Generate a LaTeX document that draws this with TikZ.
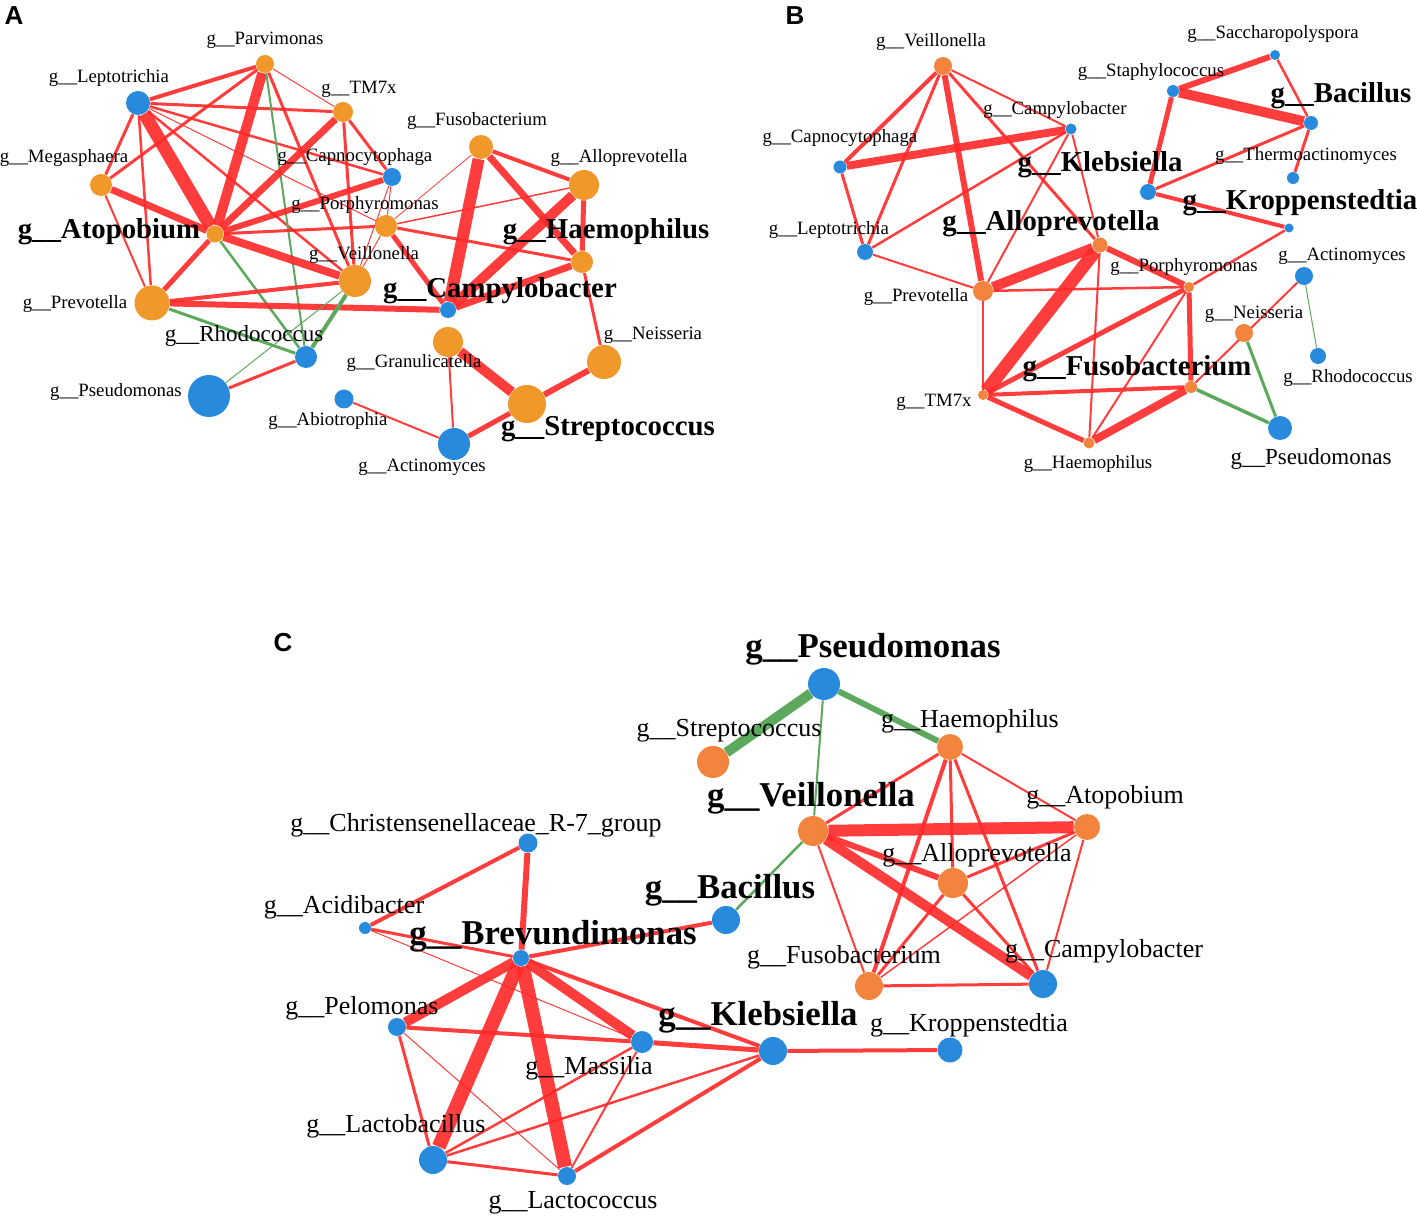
\documentclass[tikz,border=0pt]{standalone}
\usepackage{fontspec}
\setmainfont{Liberation Serif}
\newfontfamily\panelfont{Liberation Sans}
\usepackage{tikz}
\usetikzlibrary{backgrounds}
\definecolor{orangeA}{RGB}{240,152,42}
\definecolor{orangeBC}{RGB}{242,132,62}
\definecolor{taxblue}{RGB}{40,138,220}
\definecolor{linkred}{RGB}{255,40,40}
\definecolor{linkgreen}{RGB}{92,168,92}

\begin{document}
\begin{tikzpicture}[x=0.5pt,y=-0.5pt,
                every node/.append style={inner sep=0pt},
                adot/.style={circle,fill=orangeA,minimum size=#1},
                odot/.style={circle,fill=orangeBC,minimum size=#1},
                bdot/.style={circle,fill=taxblue,minimum size=#1},
                lbl/.style={font=\fontsize{9.4}{11}\selectfont},
                lblbig/.style={font=\fontsize{11.5}{13}\selectfont},
                lblbold/.style={font=\bfseries\fontsize{14.4}{16}\selectfont},
                clbl/.style={font=\fontsize{13}{15}\selectfont},
                clblbold/.style={font=\bfseries\fontsize{17.4}{19}\selectfont},
                panel/.style={font=\panelfont\bfseries\fontsize{13}{15}\selectfont},
                poslink/.style={draw=linkred,line width=#1,draw opacity=0.9},
                neglink/.style={draw=linkgreen,line width=#1}]
                \useasboundingbox (0,0) rectangle (1417,1218);
                \node[panel] (pA) at (14,16) {A};
                \node[panel] (pB) at (795,16) {B};
                \node[panel] (pC) at (283,643) {C};
                \node[adot=9pt] (a-parv) at (265,64) {};
                \node[bdot=12pt] (a-lept) at (138,103) {};
                \node[adot=10pt] (a-tm7x) at (343,112) {};
                \node[adot=11pt] (a-mega) at (101,185) {};
                \node[bdot=9pt] (a-capn) at (392,177) {};
                \node[adot=12pt] (a-fuso) at (481,147) {};
                \node[adot=15pt] (a-allo) at (584,185) {};
                \node[adot=8.5pt] (a-atop) at (215,234) {};
                \node[adot=11pt] (a-porp) at (386,226) {};
                \node[adot=11pt] (a-haem) at (582,262) {};
                \node[adot=16pt] (a-veil) at (355,281) {};
                \node[adot=17.5pt] (a-prev) at (152,303) {};
                \node[bdot=8pt] (a-camp) at (448,310) {};
                \node[bdot=11pt] (a-rhod) at (306,357) {};
                \node[adot=15pt] (a-gran) at (448,342) {};
                \node[adot=17pt] (a-neis) at (604,362) {};
                \node[bdot=21pt] (a-pseu) at (209,396) {};
                \node[bdot=9.5pt] (a-abio) at (344,399) {};
                \node[adot=19pt] (a-stre) at (527,404) {};
                \node[bdot=16pt] (a-acti) at (454,444) {};
                \node[lbl] (a-parv-l) at (265,40) {g\_\_Parvimonas};
                \node[lbl] (a-lept-l) at (109,78) {g\_\_Leptotrichia};
                \node[lbl] (a-mega-l) at (64,158) {g\_\_Megasphaera};
                \node[lbl] (a-tm7x-l) at (359,89) {g\_\_TM7x};
                \node[lbl] (a-capn-l) at (355,157) {g\_\_Capnocytophaga};
                \node[lbl] (a-porp-l) at (365,205) {g\_\_Porphyromonas};
                \node[lbl] (a-veil-l) at (364,255) {g\_\_Veillonella};
                \node[lbl] (a-fuso-l) at (477,121) {g\_\_Fusobacterium};
                \node[lbl] (a-allo-l) at (619,158) {g\_\_Alloprevotella};
                \node[lblbold] (a-haem-l) at (606,232) {g\_\_Haemophilus};
                \node[lblbold] (a-camp-l) at (500,291) {g\_\_Campylobacter};
                \node[lblbold] (a-atop-l) at (109,232) {g\_\_Atopobium};
                \node[lbl] (a-prev-l) at (75,304) {g\_\_Prevotella};
                \node[lblbig] (a-rhod-l) at (244,336) {g\_\_Rhodococcus};
                \node[lbl] (a-pseu-l) at (116,392) {g\_\_Pseudomonas};
                \node[lbl] (a-abio-l) at (328,421) {g\_\_Abiotrophia};
                \node[lbl] (a-gran-l) at (414,363) {g\_\_Granulicatella};
                \node[lbl] (a-neis-l) at (653,335) {g\_\_Neisseria};
                \node[lblbold] (a-stre-l) at (608,429) {g\_\_Streptococcus};
                \node[lbl] (a-acti-l) at (422,467) {g\_\_Actinomyces};
                \node[odot=9pt] (b-veil) at (943,66) {};
                \node[bdot=5pt] (b-sacc) at (1275,55) {};
                \node[bdot=6pt] (b-stap) at (1173,91) {};
                \node[bdot=7pt] (b-baci) at (1311,123) {};
                \node[bdot=5.5pt] (b-camp) at (1071,129) {};
                \node[bdot=6.5pt] (b-capn) at (840,167) {};
                \node[bdot=8pt] (b-kleb) at (1148,192) {};
                \node[bdot=6pt] (b-ther) at (1293,178) {};
                \node[bdot=4.5pt] (b-krop) at (1289,228) {};
                \node[odot=7.5pt] (b-allo) at (1100,245) {};
                \node[bdot=8pt] (b-lept) at (865,252) {};
                \node[bdot=9pt] (b-acti) at (1304,276) {};
                \node[odot=5pt] (b-porp) at (1189,287) {};
                \node[odot=10pt] (b-prev) at (983,291) {};
                \node[odot=9pt] (b-neis) at (1244,333) {};
                \node[bdot=8pt] (b-rhod) at (1318,356) {};
                \node[odot=6pt] (b-fuso) at (1191,387) {};
                \node[odot=5pt] (b-tm7x) at (983,395) {};
                \node[bdot=12pt] (b-pseu) at (1280,428) {};
                \node[odot=5.5pt] (b-haem) at (1089,443) {};
                \node[lbl] (b-veil-l) at (931,42) {g\_\_Veillonella};
                \node[lbl] (b-sacc-l) at (1273,34) {g\_\_Saccharopolyspora};
                \node[lbl] (b-stap-l) at (1151,72) {g\_\_Staphylococcus};
                \node[lblbold] (b-baci-l) at (1341,96) {g\_\_Bacillus};
                \node[lbl] (b-camp-l) at (1055,110) {g\_\_Campylobacter};
                \node[lbl] (b-capn-l) at (840,138) {g\_\_Capnocytophaga};
                \node[lblbold] (b-kleb-l) at (1100,165) {g\_\_Klebsiella};
                \node[lbl] (b-ther-l) at (1306,156) {g\_\_Thermoactinomyces};
                \node[lblbold] (b-krop-l) at (1300,203) {g\_\_Kroppenstedtia};
                \node[lblbold] (b-allo-l) at (1051,224) {g\_\_Alloprevotella};
                \node[lbl] (b-lept-l) at (829,230) {g\_\_Leptotrichia};
                \node[lbl] (b-acti-l) at (1342,256) {g\_\_Actinomyces};
                \node[lbl] (b-porp-l) at (1184,267) {g\_\_Porphyromonas};
                \node[lbl] (b-prev-l) at (916,297) {g\_\_Prevotella};
                \node[lbl] (b-neis-l) at (1254,314) {g\_\_Neisseria};
                \node[lbl] (b-rhod-l) at (1348,378) {g\_\_Rhodococcus};
                \node[lblbold] (b-fuso-l) at (1137,369) {g\_\_Fusobacterium};
                \node[lbl] (b-tm7x-l) at (934,402) {g\_\_TM7x};
                \node[lblbig] (b-pseu-l) at (1311,459) {g\_\_Pseudomonas};
                \node[lbl] (b-haem-l) at (1088,464) {g\_\_Haemophilus};
                \node[bdot=16pt] (c-pseu) at (824,684) {};
                \node[odot=16pt] (c-stre) at (713,762) {};
                \node[odot=13pt] (c-haem) at (950,747) {};
                \node[odot=15pt] (c-veil) at (813,831) {};
                \node[odot=13pt] (c-atop) at (1087,827) {};
                \node[bdot=9.5pt] (c-chri) at (528,843) {};
                \node[odot=15pt] (c-allo) at (953,883) {};
                \node[bdot=14pt] (c-baci) at (726,920) {};
                \node[bdot=6pt] (c-acid) at (365,928) {};
                \node[bdot=8pt] (c-brev) at (521,958) {};
                \node[odot=14pt] (c-fuso) at (869,986) {};
                \node[bdot=14pt] (c-camp) at (1043,984) {};
                \node[bdot=9pt] (c-pelo) at (397,1027) {};
                \node[bdot=11pt] (c-mass) at (642,1042) {};
                \node[bdot=14pt] (c-kleb) at (773,1051) {};
                \node[bdot=12.5pt] (c-krop) at (950,1050) {};
                \node[bdot=14pt] (c-lacb) at (433,1160) {};
                \node[bdot=9pt] (c-lacc) at (567,1176) {};
                \node[clblbold] (c-pseu-l) at (873,649) {g\_\_Pseudomonas};
                \node[clbl] (c-stre-l) at (729,731) {g\_\_Streptococcus};
                \node[clbl] (c-haem-l) at (970,721) {g\_\_Haemophilus};
                \node[clblbold] (c-veil-l) at (811,798) {g\_\_Veillonella};
                \node[clbl] (c-atop-l) at (1105,797) {g\_\_Atopobium};
                \node[clbl] (c-chri-l) at (476,825) {g\_\_Christensenellaceae\_R-7\_group};
                \node[clbl] (c-allo-l) at (977,855) {g\_\_Alloprevotella};
                \node[clblbold] (c-baci-l) at (730,890) {g\_\_Bacillus};
                \node[clbl] (c-acid-l) at (344,907) {g\_\_Acidibacter};
                \node[clblbold] (c-brev-l) at (553,936) {g\_\_Brevundimonas};
                \node[clbl] (c-fuso-l) at (844,957) {g\_\_Fusobacterium};
                \node[clbl] (c-camp-l) at (1104,951) {g\_\_Campylobacter};
                \node[clbl] (c-pelo-l) at (362,1008) {g\_\_Pelomonas};
                \node[clbl] (c-mass-l) at (589,1068) {g\_\_Massilia};
                \node[clblbold] (c-kleb-l) at (758,1017) {g\_\_Klebsiella};
                \node[clbl] (c-krop-l) at (969,1025) {g\_\_Kroppenstedtia};
                \node[clbl] (c-lacb-l) at (396,1126) {g\_\_Lactobacillus};
                \node[clbl] (c-lacc-l) at (573,1203) {g\_\_Lactococcus};
                \begin{pgfonlayer}{background}
                \draw [poslink=2pt] (a-lept) -- (a-parv);
                \draw [poslink=1.5pt] (a-lept) -- (a-tm7x);
                \draw [poslink=1.25pt] (a-lept) -- (a-capn);
                \draw [poslink=0.5pt] (a-lept) -- (a-porp);
                \draw [poslink=1.25pt] (a-lept) -- (a-veil);
                \draw [poslink=6.5pt] (a-lept) -- (a-atop);
                \draw [poslink=1.5pt] (a-lept) -- (a-mega);
                \draw [poslink=1.25pt] (a-lept) -- (a-prev);
                \draw [poslink=1.5pt] (a-parv) -- (a-mega);
                \draw [poslink=5pt] (a-parv) -- (a-atop);
                \draw [poslink=0.5pt] (a-parv) -- (a-tm7x);
                \draw [poslink=1.5pt] (a-parv) -- (a-veil);
                \draw [neglink=1pt] (a-parv) -- (a-rhod);
                \draw [poslink=3.5pt] (a-tm7x) -- (a-atop);
                \draw [poslink=1.5pt] (a-tm7x) -- (a-capn);
                \draw [poslink=1.5pt] (a-tm7x) -- (a-veil);
                \draw [poslink=3.5pt] (a-mega) -- (a-atop);
                \draw [poslink=1pt] (a-mega) -- (a-prev);
                \draw [poslink=3pt] (a-atop) -- (a-capn);
                \draw [poslink=1.5pt] (a-atop) -- (a-porp);
                \draw [poslink=4pt] (a-atop) -- (a-veil);
                \draw [poslink=2.5pt] (a-atop) -- (a-prev);
                \draw [neglink=1.25pt] (a-atop) -- (a-rhod);
                \draw [poslink=0.5pt] (a-porp) -- (a-capn);
                \draw [poslink=0.5pt] (a-capn) -- (a-veil);
                \draw [poslink=0.5pt] (a-porp) -- (a-veil);
                \draw [poslink=0.4pt] (a-porp) -- (a-fuso);
                \draw [poslink=0.75pt] (a-porp) -- (a-allo);
                \draw [poslink=1.5pt] (a-porp) -- (a-haem);
                \draw [poslink=2.5pt] (a-porp) -- (a-camp);
                \draw [poslink=6pt] (a-fuso) -- (a-camp);
                \draw [poslink=2pt] (a-fuso) -- (a-allo);
                \draw [poslink=3.5pt] (a-fuso) -- (a-haem);
                \draw [poslink=5pt] (a-allo) -- (a-camp);
                \draw [poslink=2.5pt] (a-allo) -- (a-haem);
                \draw [poslink=3.5pt] (a-haem) -- (a-camp);
                \draw [poslink=1.5pt] (a-haem) -- (a-neis);
                \draw [poslink=3pt] (a-prev) -- (a-camp);
                \draw [poslink=2pt] (a-prev) -- (a-veil);
                \draw [neglink=1.5pt] (a-prev) -- (a-rhod);
                \draw [neglink=2pt] (a-veil) -- (a-rhod);
                \draw [neglink=0.5pt] (a-veil) -- (a-pseu);
                \draw [poslink=1.5pt] (a-rhod) -- (a-pseu);
                \draw [poslink=5pt] (a-gran) -- (a-stre);
                \draw [poslink=1pt] (a-gran) -- (a-acti);
                \draw [poslink=3pt] (a-neis) -- (a-stre);
                \draw [poslink=2.5pt] (a-stre) -- (a-acti);
                \draw [poslink=1pt] (a-abio) -- (a-acti);
                \draw [poslink=2pt] (b-veil) -- (b-capn);
                \draw [poslink=1.5pt] (b-veil) -- (b-lept);
                \draw [poslink=3pt] (b-veil) -- (b-prev);
                \draw [poslink=1pt] (b-veil) -- (b-camp);
                \draw [poslink=1.5pt] (b-veil) -- (b-allo);
                \draw [poslink=4pt] (b-capn) -- (b-camp);
                \draw [poslink=1.5pt] (b-capn) -- (b-lept);
                \draw [poslink=1.25pt] (b-lept) -- (b-camp);
                \draw [poslink=1pt] (b-lept) -- (b-prev);
                \draw [poslink=1pt] (b-camp) -- (b-prev);
                \draw [poslink=1pt] (b-camp) -- (b-allo);
                \draw [poslink=3pt] (b-stap) -- (b-sacc);
                \draw [poslink=5pt] (b-stap) -- (b-baci);
                \draw [poslink=2.5pt] (b-stap) -- (b-kleb);
                \draw [poslink=1.25pt] (b-sacc) -- (b-baci);
                \draw [poslink=1.5pt] (b-baci) -- (b-kleb);
                \draw [poslink=1.5pt] (b-baci) -- (b-ther);
                \draw [poslink=2pt] (b-kleb) -- (b-krop);
                \draw [poslink=1.25pt] (b-krop) -- (b-porp);
                \draw [poslink=5pt] (b-allo) -- (b-prev);
                \draw [poslink=6.5pt] (b-allo) -- (b-tm7x);
                \draw [poslink=3pt] (b-allo) -- (b-porp);
                \draw [poslink=1pt] (b-allo) -- (b-haem);
                \draw [poslink=1.25pt] (b-prev) -- (b-porp);
                \draw [poslink=1pt] (b-prev) -- (b-tm7x);
                \draw [poslink=2.5pt] (b-tm7x) -- (b-porp);
                \draw [poslink=2pt] (b-tm7x) -- (b-fuso);
                \draw [poslink=2.5pt] (b-tm7x) -- (b-haem);
                \draw [poslink=2.5pt] (b-porp) -- (b-fuso);
                \draw [poslink=1pt] (b-porp) -- (b-haem);
                \draw [poslink=4pt] (b-fuso) -- (b-haem);
                \draw [poslink=1pt] (b-fuso) -- (b-acti);
                \draw [neglink=1.75pt] (b-fuso) -- (b-pseu);
                \draw [neglink=1.5pt] (b-neis) -- (b-pseu);
                \draw [neglink=0.5pt] (b-acti) -- (b-rhod);
                \draw [neglink=5pt] (c-pseu) -- (c-stre);
                \draw [neglink=3pt] (c-pseu) -- (c-haem);
                \draw [neglink=1pt] (c-pseu) -- (c-veil);
                \draw [neglink=1.25pt] (c-veil) -- (c-baci);
                \draw [poslink=6pt] (c-veil) -- (c-atop);
                \draw [poslink=1.5pt] (c-veil) -- (c-haem);
                \draw [poslink=3pt] (c-veil) -- (c-allo);
                \draw [poslink=5pt] (c-veil) -- (c-camp);
                \draw [poslink=1pt] (c-veil) -- (c-fuso);
                \draw [poslink=2pt] (c-haem) -- (c-fuso);
                \draw [poslink=1.5pt] (c-haem) -- (c-allo);
                \draw [poslink=1.5pt] (c-haem) -- (c-camp);
                \draw [poslink=1pt] (c-haem) -- (c-atop);
                \draw [poslink=1.5pt] (c-atop) -- (c-allo);
                \draw [poslink=0.75pt] (c-atop) -- (c-fuso);
                \draw [poslink=1pt] (c-atop) -- (c-camp);
                \draw [poslink=1.5pt] (c-allo) -- (c-fuso);
                \draw [poslink=1.5pt] (c-allo) -- (c-camp);
                \draw [poslink=1.5pt] (c-fuso) -- (c-camp);
                \draw [poslink=2pt] (c-chri) -- (c-acid);
                \draw [poslink=3pt] (c-chri) -- (c-brev);
                \draw [poslink=1.5pt] (c-acid) -- (c-brev);
                \draw [poslink=0.5pt] (c-acid) -- (c-mass);
                \draw [poslink=2pt] (c-brev) -- (c-baci);
                \draw [poslink=5pt] (c-brev) -- (c-pelo);
                \draw [poslink=7pt] (c-brev) -- (c-lacb);
                \draw [poslink=7pt] (c-brev) -- (c-lacc);
                \draw [poslink=5pt] (c-brev) -- (c-mass);
                \draw [poslink=2pt] (c-brev) -- (c-kleb);
                \draw [poslink=2pt] (c-pelo) -- (c-mass);
                \draw [poslink=1.5pt] (c-pelo) -- (c-lacb);
                \draw [poslink=0.5pt] (c-pelo) -- (c-lacc);
                \draw [poslink=2.5pt] (c-mass) -- (c-kleb);
                \draw [poslink=1.25pt] (c-mass) -- (c-lacb);
                \draw [poslink=1pt] (c-mass) -- (c-lacc);
                \draw [poslink=1.25pt] (c-lacb) -- (c-kleb);
                \draw [poslink=1.5pt] (c-lacb) -- (c-lacc);
                \draw [poslink=2pt] (c-lacc) -- (c-kleb);
                \draw [poslink=2pt] (c-kleb) -- (c-krop);
                \end{pgfonlayer}
            \end{tikzpicture}
\end{document}
